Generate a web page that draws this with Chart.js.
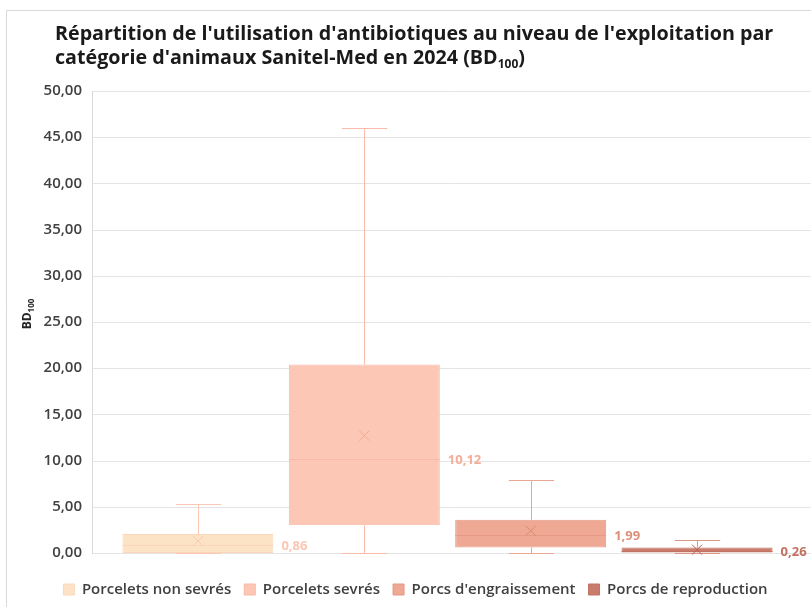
<!DOCTYPE html>
<html lang="fr">
<head>
  <meta charset="UTF-8" />
  <title>Répartition de l'utilisation d'antibiotiques</title>
  <script src="https://cdn.jsdelivr.net/npm/chart.js"></script>
  <style>
    html, body {
      margin: 0;
      padding: 0;
      background: #ffffff;
    }
    #wrap {
      position: relative;
      width: 811px;
      height: 607px;
    }
  </style>
</head>
<body>
  <div id="wrap">
    <canvas id="boxChart" width="811" height="607"></canvas>
  </div>

  <script>
    // Data (BD100 per farm)
    const categories = ["Porcelets non sevrés", "Porcelets sevrés", "Porcs d'engraissement", "Porcs de reproduction"];
    const minVals    = [0, 0, 0, 0];
    const q1Vals     = [0, 3.0, 0.6, 0.05];
    const medianVals = [0.86, 10.12, 1.99, 0.26];
    const q3Vals     = [2.05, 20.4, 3.6, 0.6];
    const maxVals    = [5.3, 46.0, 7.9, 1.45];
    const meanVals   = [1.3, 12.7, 2.4, 0.36];
    const yTicks     = [0, 5, 10, 15, 20, 25, 30, 35, 40, 45, 50];

    const fillColors    = ["#fde3c5", "#fdc7b6", "#eea894", "#c97c6c"];
    const borderColors  = ["#fbd6bb", "#f9b9a6", "#e69a84", "#c27262"];
    const whiskerColors = ["#fcc8b6", "#f9bcaa", "#eaa792", "#d99888"];
    const crossColors   = ["#fcc8b6", "#f3a992", "#d98b76", "#b5604f"];
    const labelColors   = ["#fbc6b3", "#f4ad96", "#dc9079", "#c2705f"];

    const fmt = v => v.toFixed(2).replace(".", ",");
    const FONT = "'Open Sans', sans-serif";

    // Whiskers, median, mean, labels, title and frame
    const boxExtras = {
      id: "boxExtras",
      afterLayout(chart) {
        // legend sits a bit right of centre in the original
        chart.legend.left += 14;
        chart.legend.right += 14;
      },
      beforeDraw(chart) {
        const { ctx, chartArea, scales: { y } } = chart;
        ctx.save();
        // outer frame
        ctx.strokeStyle = "#d9d9d9";
        ctx.lineWidth = 1;
        ctx.beginPath();
        ctx.moveTo(6.5, chart.height);
        ctx.lineTo(6.5, 10.5);
        ctx.lineTo(chart.width, 10.5);
        ctx.stroke();
        // horizontal grid lines up to the page edge
        ctx.strokeStyle = "#e4e4e4";
        yTicks.forEach(t => {
          const py = Math.round(y.getPixelForValue(t)) + 0.5;
          ctx.beginPath();
          ctx.moveTo(chartArea.left, py);
          ctx.lineTo(chart.width, py);
          ctx.stroke();
        });
        // title
        ctx.fillStyle = "#1a1a1a";
        ctx.font = "bold 19.7px " + FONT;
        ctx.textBaseline = "alphabetic";
        ctx.textAlign = "left";
        ctx.fillText("Répartition de l'utilisation d'antibiotiques au niveau de l'exploitation par", 55, 40);
        const line2 = "catégorie d'animaux Sanitel-Med en 2024 (BD";
        ctx.fillText(line2, 55, 64);
        let x = 55 + ctx.measureText(line2).width;
        ctx.font = "bold 12px " + FONT;
        ctx.fillText("100", x, 68);
        x += ctx.measureText("100").width;
        ctx.font = "bold 19.7px " + FONT;
        ctx.fillText(")", x, 64);
        // y axis title
        ctx.translate(31, (chartArea.top + chartArea.bottom) / 2 - 8);
        ctx.rotate(-Math.PI / 2);
        ctx.font = "bold 12px " + FONT;
        ctx.fillStyle = "#262626";
        ctx.textAlign = "left";
        const bw = ctx.measureText("BD").width;
        ctx.font = "bold 8px " + FONT;
        const sw = ctx.measureText("100").width;
        const start = -(bw + sw) / 2;
        ctx.font = "bold 12px " + FONT;
        ctx.fillText("BD", start, 0);
        ctx.font = "bold 8px " + FONT;
        ctx.fillText("100", start + bw, 3);
        ctx.restore();
      },
      beforeDatasetsDraw(chart) {
        const { ctx, scales: { y } } = chart;
        ctx.save();
        ctx.lineWidth = 1;
        chart.data.datasets.forEach((ds, i) => {
          const bar = chart.getDatasetMeta(i).data[0];
          const cx = Math.round(bar.x) + 0.5;
          const capHalf = bar.width * 0.15;
          ctx.strokeStyle = whiskerColors[i];
          const yMax = Math.round(y.getPixelForValue(maxVals[i])) + 0.5;
          const yQ3 = y.getPixelForValue(q3Vals[i]);
          const yQ1 = y.getPixelForValue(q1Vals[i]);
          const yMin = Math.round(y.getPixelForValue(minVals[i])) + 0.5;
          ctx.beginPath();
          ctx.moveTo(cx, yQ3);
          ctx.lineTo(cx, yMax);
          ctx.moveTo(cx - capHalf, yMax);
          ctx.lineTo(cx + capHalf, yMax);
          ctx.moveTo(cx, yQ1);
          ctx.lineTo(cx, yMin);
          ctx.moveTo(cx - capHalf, yMin);
          ctx.lineTo(cx + capHalf, yMin);
          ctx.stroke();
        });
        ctx.restore();
      },
      afterDatasetsDraw(chart) {
        const { ctx, scales: { y } } = chart;
        ctx.save();
        chart.data.datasets.forEach((ds, i) => {
          const bar = chart.getDatasetMeta(i).data[0];
          const left = bar.x - bar.width / 2;
          const right = bar.x + bar.width / 2;
          // median
          const yMed = Math.round(y.getPixelForValue(medianVals[i])) + 0.5;
          ctx.strokeStyle = borderColors[i];
          ctx.lineWidth = 1;
          ctx.beginPath();
          ctx.moveTo(left, yMed);
          ctx.lineTo(right, yMed);
          ctx.stroke();
          // mean cross
          const yMean = y.getPixelForValue(meanVals[i]);
          const s = 5;
          ctx.strokeStyle = crossColors[i];
          ctx.beginPath();
          ctx.moveTo(bar.x - s, yMean - s);
          ctx.lineTo(bar.x + s, yMean + s);
          ctx.moveTo(bar.x + s, yMean - s);
          ctx.lineTo(bar.x - s, yMean + s);
          ctx.stroke();
          // median label
          ctx.fillStyle = labelColors[i];
          ctx.font = "bold 13px " + FONT;
          ctx.textAlign = "left";
          ctx.textBaseline = "middle";
          ctx.fillText(fmt(medianVals[i]), right + 8, yMed + 1);
        });
        ctx.restore();
      }
    };

    new Chart(document.getElementById("boxChart"), {
      type: "bar",
      data: {
        labels: [""],
        datasets: categories.map((name, i) => ({
          label: name,
          data: [[q1Vals[i], q3Vals[i]]],
          backgroundColor: fillColors[i],
          borderColor: borderColors[i],
          borderWidth: 1,
          borderSkipped: false,
          categoryPercentage: 0.936,
          barPercentage: 0.9075
        }))
      },
      options: {
        responsive: false,
        animation: false,
        layout: {
          padding: { left: 0, right: 8, top: 91, bottom: 0 }
        },
        scales: {
          x: {
            ticks: { display: false },
            grid: { display: false },
            border: { display: false },
            afterFit: s => { s.height = 16; }
          },
          y: {
            min: 0,
            max: 50,
            afterFit: s => { s.width = 92; },
            afterBuildTicks: s => { s.ticks = yTicks.map(v => ({ value: v })); },
            ticks: {
              color: "#404040",
              padding: 2,
              font: { family: FONT, size: 15, weight: "600" },
              callback: v => fmt(v)
            },
            grid: { display: false },
            border: { display: true, color: "#d9d9d9" }
          }
        },
        plugins: {
          legend: {
            position: "bottom",
            labels: {
              color: "#404040",
              boxWidth: 11,
              boxHeight: 11,
              padding: 13,
              font: { family: FONT, size: 15, weight: "600" }
            }
          },
          tooltip: { enabled: false }
        }
      },
      plugins: [boxExtras]
    });
  </script>
</body>
</html>
